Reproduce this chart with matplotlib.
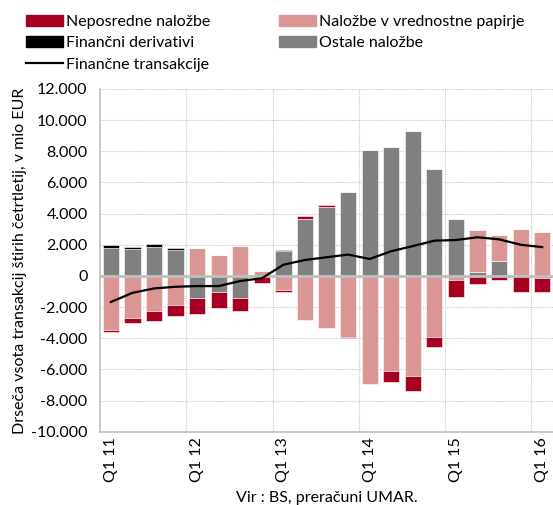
import matplotlib
matplotlib.use("AGG")
import matplotlib.pyplot as plt
from matplotlib.patches import Patch
from matplotlib.lines import Line2D
import numpy as np

plt.rcParams['font.family'] = ['Lato', 'DejaVu Sans']

quarters = ["Q1 11", "", "", "", "Q1 12", "", "", "", "Q1 13", "", "", "",
            "Q1 14", "", "", "", "Q1 15", "", "", "", "Q1 16"]

# values in mio EUR
ostale = [1800, 1700, 1870, 1650, -1410, -1040, -1430, 0, 1600, 3650, 4390,
          5390, 8110, 8280, 9300, 6890, 3630, 260, 975, 50, -130]
vrednostni = [-3450, -2700, -2280, -1890, 1760, 1330, 1910, 340, -900, -2830, -3330,
              -3950, -6960, -6090, -6430, -3930, -250, 2700, 1630, 2940, 2840]
derivativi = [160, 130, 170, 150, 0, 0, 0, 0, 90, 0, 0,
              0, 0, 0, 0, 0, 0, 0, 0, 0, 0]
neposredne = [-160, -300, -590, -650, -1020, -1000, -850, -430, -140, 170, 150,
              -50, 0, -720, -950, -630, -1100, -520, -280, -1025, -890]
transakcije = [-1674, -1087, -804, -696, -652, -652, -326, -152, 717, 1022, 1196,
               1370, 1087, 1587, 1913, 2261, 2304, 2478, 2348, 2000, 1848]

series = [
    ("Ostale naložbe", ostale, "#808080"),
    ("Naložbe v vrednostne papirje", vrednostni, "#DA9694"),
    ("Finančni derivativi", derivativi, "#000000"),
    ("Neposredne naložbe", neposredne, "#A50021"),
]

fig = plt.figure(figsize=(5.53, 5.05), dpi=100)
ax = fig.add_axes([0.181, 0.145, 0.819, 0.679])

x = np.arange(len(quarters))
pos_base = np.zeros(len(x))
neg_base = np.zeros(len(x))
for name, vals, col in series:
    v = np.array(vals, dtype=float)
    bottom = np.where(v >= 0, pos_base, neg_base)
    ax.bar(x, v, 0.75, bottom=bottom, color=col, edgecolor="white",
           linewidth=0.4, zorder=3)
    pos_base += np.clip(v, 0, None)
    neg_base += np.clip(v, None, 0)

ax.plot(x, transakcije, color="black", lw=1.6, zorder=5)
ax.axhline(0, color="#bfbfbf", lw=2, zorder=4)

ax.set_xlim(-0.5, len(x) - 0.5)
ax.set_ylim(-10000, 12000)
ax.set_yticks(np.arange(-10000, 12001, 2000))
ax.set_yticklabels([f"{v:,}".replace(",", ".") for v in range(-10000, 12001, 2000)],
                   fontsize=11.5)
ax.set_xticks(x)
ax.set_xticklabels(quarters, rotation=90, fontsize=11.5)
ax.tick_params(axis="y", length=0, pad=9)
ax.tick_params(axis="x", length=0, pad=4)

for yv in range(-10000, 12001, 2000):
    ax.axhline(yv, color="#c8c8c8", lw=0.8, ls=(0, (1, 1)), zorder=1)
for xv in np.arange(3.5, len(x), 4):
    ax.axvline(xv, color="#c8c8c8", lw=0.8, ls=(0, (1, 1)), zorder=1)

for s in ["top", "right"]:
    ax.spines[s].set_visible(False)
for s in ["left", "bottom"]:
    ax.spines[s].set_color("#bfbfbf")
    ax.spines[s].set_linewidth(1.2)

ax.set_ylabel("Drseča vsota transakcij štirih četrtletij, v mio EUR", fontsize=11.5,
              labelpad=3)
ax.set_xlabel("Vir : BS, preračuni UMAR.", fontsize=11.5, labelpad=6)

handles = [
    Patch(color="#A50021", label="Neposredne naložbe"),
    Patch(color="#000000", label="Finančni derivativi"),
    Line2D([], [], color="black", lw=1.6, label="Finančne transakcije"),
    Patch(color="#DA9694", label="Naložbe v vrednostne papirje"),
    Patch(color="#808080", label="Ostale naložbe"),
]
fig.legend(handles=handles, ncol=2, loc="upper left", bbox_to_anchor=(0.03, 0.99),
           frameon=False, fontsize=11.5, handlelength=2.3, handleheight=0.7,
           handletextpad=0.2, columnspacing=4.3, labelspacing=0.45,
           borderaxespad=0.2)

plt.savefig("out.png", dpi=100)
